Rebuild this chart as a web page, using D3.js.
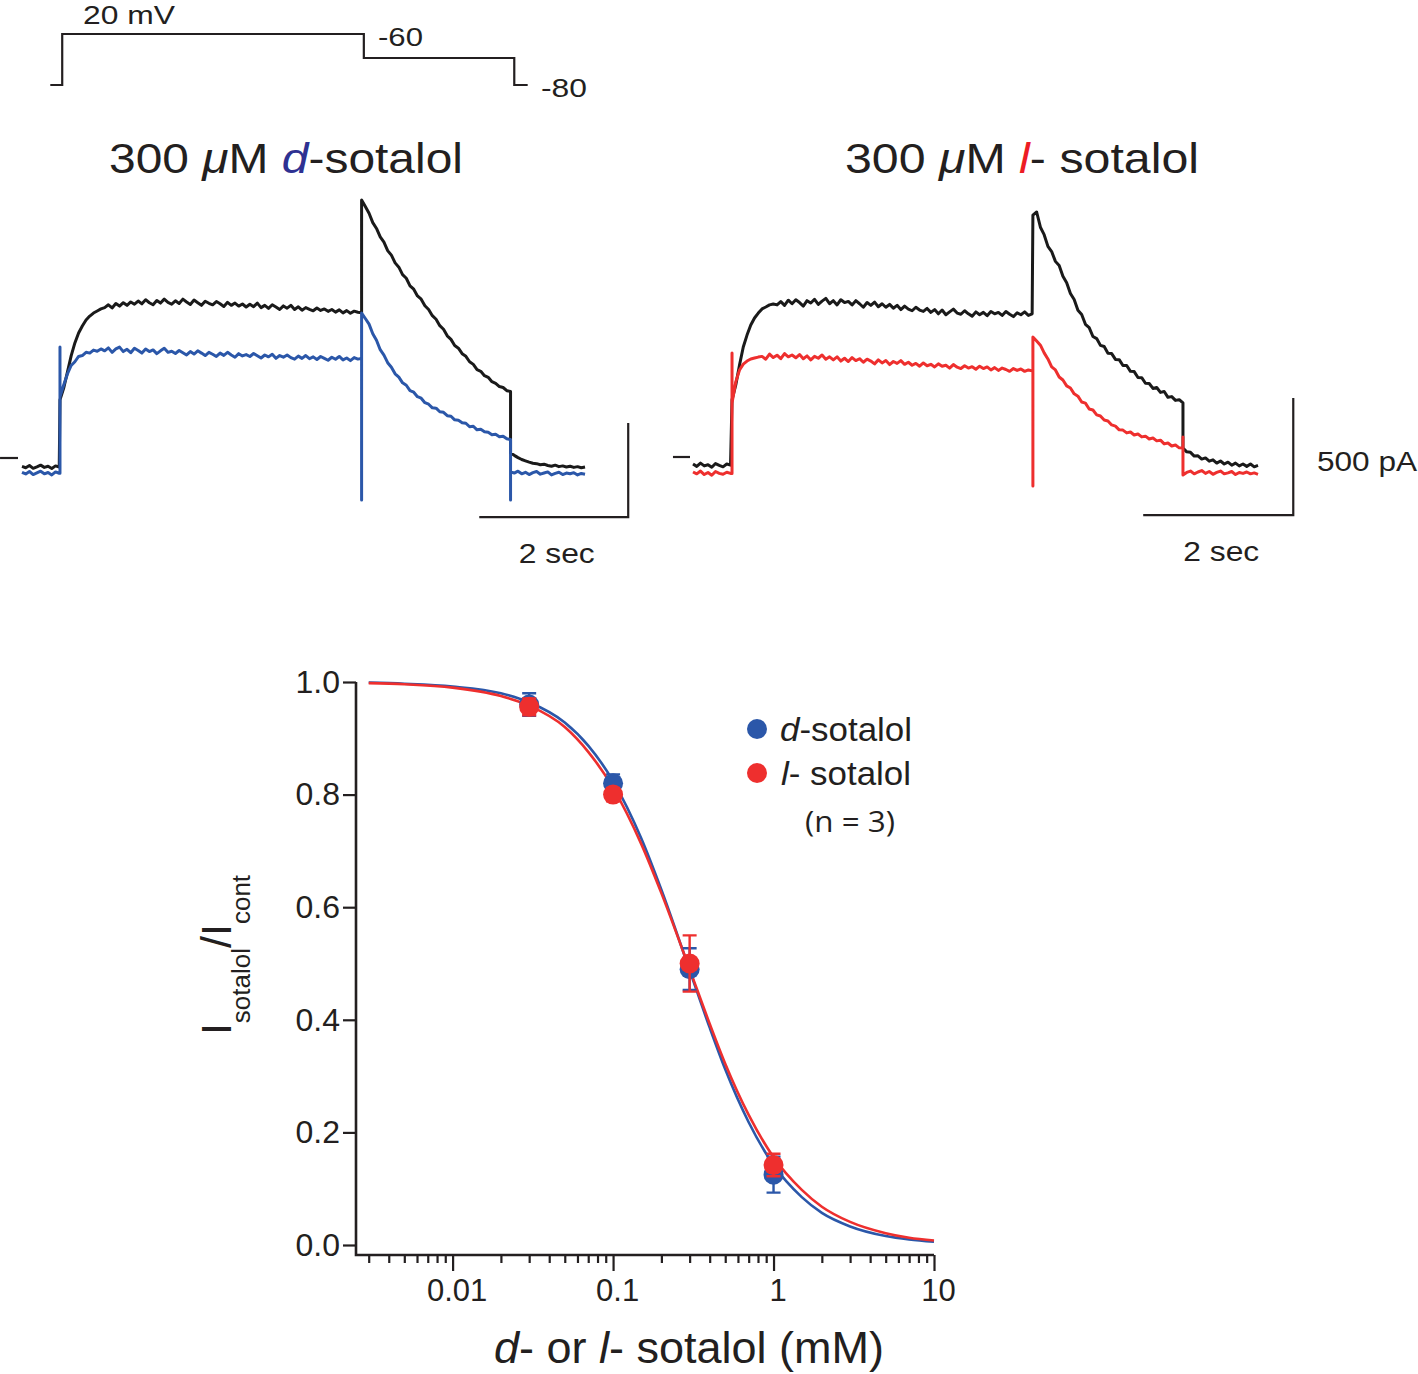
<!DOCTYPE html>
<html lang="en">
<head>
<meta charset="UTF-8">
<title>d- and l-sotalol block</title>
<script src="https://d3js.org/d3.v7.min.js"></script>
<style>
  body { margin: 0; background: #fff; }
  text { font-family: "Liberation Sans", Arial, sans-serif; fill: #231f20; }
</style>
</head>
<body>
<script>
// ---------- data ----------
const DT = 0.05; // sample spacing of the traces (s)

// voltage protocol (s, mV)
const protoT = [0.38, 0.54, 4.59, 6.61, 6.79];
const protoV = [-80, 20, -60, -80, -80];

// left panel, d-sotalol; currents in pA, segments start at dEdges (s)
const dEdges = [0, 0.51, 4.56, 6.56];
const dCtrlPre = [-45, -52, -40, -55, -47, -38, -50, -44, -56, -42, -48];
const dCtrlStep = [309, 372, 457, 543, 612, 665, 702, 734, 755, 771, 782, 793,
  800, 815, 798, 822, 808, 826, 812, 830, 818,
  835, 820, 842, 826, 815, 838, 824, 845, 828, 818,
  836, 822, 845, 830, 817, 840, 826, 812, 834, 823,
  815, 832, 820, 806, 828, 812, 824, 808, 819, 803,
  818, 805, 824, 800, 812, 796, 815, 803, 790, 809,
  797, 812, 790, 804, 786, 800, 791, 783, 798, 785,
  793, 780, 790, 776, 788, 772, 784, 770, 781, 775, 772];
const dCtrlTail = [1373, 1338, 1302, 1252, 1221, 1176, 1148, 1103, 1079, 1038, 1015, 975,
  956, 916, 898, 862, 845, 810, 790, 757, 738, 704, 685, 650, 631, 598, 584, 555,
  541, 512, 498, 470, 461, 438, 429, 406, 397, 380, 375, 358, 354];
const dCtrlEnd = [27, 14, 2, -8, -15, -22, -28, -30, -36, -33, -40, -44, -38, -46, -42, -48, -44, -50, -46, -52, -48];

const dDrugPre = [-76, -85, -72, -88, -79, -70, -84, -77, -90, -74, -81];
const dDrugStep = [325, 388, 447, 492, 512, 540, 545, 562, 558, 574, 568, 580,
  570, 586, 562, 580, 590, 566, 578, 560, 584,
  572, 558, 580, 566, 575, 555, 570, 584, 562, 568,
  556, 572, 560, 548, 566, 553, 570, 558, 545, 562,
  552, 540, 558, 546, 562, 548, 536, 555, 543, 550,
  540, 556, 544, 532, 548, 538, 552, 530, 545, 536,
  548, 534, 526, 542, 530, 545, 528, 538, 524, 540,
  530, 520, 536, 525, 540, 522, 532, 518, 534, 526, 530];
const dDrugTail = [771, 742, 712, 661, 626, 576, 547, 507, 483, 448, 430, 400, 387, 358,
  350, 326, 318, 294, 286, 267, 265, 246, 243, 225, 222, 203, 201, 188, 185, 166,
  169, 150, 153, 140, 137, 124, 126, 113, 116, 102, 98];
const dDrugEnd = [-74, -80, -70, -84, -76, -88, -78, -72, -86, -80, -74, -90, -82, -76, -88, -80, -84, -78, -90, -82, -86];
// capacitive spikes: [time, values]
const dDrugSpikes = [[0.51, [-81, 590, 325]], [4.56, [530, -223, 771]], [6.56, [98, -223, -74]]];

// right panel, l-sotalol
const lEdges = [0, 0.52, 4.53, 6.53];
const lCtrlPre = [-30, -40, -26, -38, -33, -44, -28, -36, -42, -30, -35];
const lCtrlStep = [244, 308, 393, 470, 521, 564, 594, 615, 633, 641, 650, 654,
  650, 664, 648, 670, 655, 672, 660, 645, 668,
  658, 674, 652, 666, 678, 655, 668, 650, 672, 660,
  665, 650, 668, 655, 640, 660, 648, 662, 642, 655,
  640, 652, 636, 648, 630, 645, 632, 625, 640, 628,
  622, 635, 618, 630, 612, 628, 608, 620, 632, 615,
  610, 625, 612, 602, 620, 608, 618, 604, 622, 612,
  618, 605, 622, 610, 600, 616, 608, 620, 605, 612];
const lCtrlTail = [1034, 1047, 982, 950, 900, 878, 836, 818, 772, 745, 699, 673, 627, 609,
  567, 553, 515, 506, 477, 472, 443, 442, 417, 416, 391, 391, 366, 365, 340, 339,
  315, 314, 293, 297, 276, 280, 255, 258, 242, 245, 231];
const lCtrlEnd = [38, 22, 20, 4, 5, -9, -4, -18, -12, -26, -17, -30, -22, -35, -26, -38, -30, -40, -30, -42, -36];

const lDrugPre = [-64, -72, -60, -75, -66, -78, -62, -70, -74, -65, -70];
const lDrugStep = [231, 321, 372, 397, 410, 419, 423, 427,
  430, 418, 440, 425, 435, 420, 442, 428, 436,
  424, 438, 420, 432, 415, 430, 422, 436, 418, 428,
  415, 428, 410, 422, 408, 425, 412, 420, 405, 418,
  410, 398, 415, 402, 412, 395, 408, 400, 412, 396,
  405, 392, 400, 388, 402, 390, 396, 385, 398, 388,
  392, 380, 395, 384, 378, 390, 380, 386, 375, 388,
  378, 385, 372, 382, 370, 380, 374, 366, 378, 370,
  376, 366, 372, 368];
const lDrugTail = [513, 496, 478, 445, 419, 385, 372, 342, 329, 304, 295, 270, 260, 235,
  230, 205, 201, 180, 175, 158, 154, 137, 132, 116, 115, 103, 107, 94, 98, 86,
  89, 77, 81, 69, 72, 56, 60, 47, 51, 39, 38];
const lDrugEnd = [-77, -66, -60, -72, -64, -58, -70, -62, -74, -66, -60, -72, -68, -62, -75, -66, -70, -64, -72, -68, -74];
const lDrugSpikes = [[0.52, [-70, 444, 231]], [4.53, [368, -124, 513]], [6.53, [38, 85, -77]]];

// concentration-response (mM, I/Icont)
const doses = [0.03, 0.1, 0.3, 1];
const dMean = [0.96, 0.82, 0.49, 0.125];
const dSem = [0.02, 0.016, 0.037, 0.032];
const lMean = [0.956, 0.80, 0.50, 0.142];
const lSem = [0.015, 0.012, 0.05, 0.02];

// fitted curves
const fitConc = [0.003, 0.005, 0.01, 0.02, 0.03, 0.05, 0.07, 0.1, 0.15, 0.2, 0.3, 0.4, 0.5, 0.7, 1, 1.5, 2, 3, 5, 7, 10];
const dFit = [0.999, 0.997, 0.992, 0.980, 0.964, 0.928, 0.887, 0.824, 0.722, 0.631, 0.488, 0.386, 0.312, 0.218, 0.142, 0.085, 0.057, 0.033, 0.016, 0.010, 0.006];
const lFit = [0.998, 0.996, 0.990, 0.975, 0.958, 0.920, 0.876, 0.812, 0.712, 0.625, 0.490, 0.393, 0.322, 0.231, 0.156, 0.098, 0.068, 0.041, 0.021, 0.013, 0.008];

const minorTicks = [0.003, 0.004, 0.005, 0.006, 0.007, 0.008, 0.009,
  0.02, 0.03, 0.04, 0.05, 0.06, 0.07, 0.08, 0.09,
  0.2, 0.3, 0.4, 0.5, 0.6, 0.7, 0.8, 0.9,
  2, 3, 4, 5, 6, 7, 8, 9];
const majorTicks = [0.01, 0.1, 1, 10];

// ---------- drawing ----------
const blue = "#2b57a9", red = "#ee2f2e", ink = "#231f20";

const svg = d3.select("body").append("svg")
  .attr("width", 1418).attr("height", 1374);

function sweep(edges, parts, spikes) {
  const pts = [];
  parts.forEach((vals, k) => {
    const sp = (spikes || []).find(s => s[0] === edges[k]);
    if (sp) sp[1].forEach(v => pts.push([edges[k], v]));
    vals.forEach((v, i) => pts.push([edges[k] + i * DT, v]));
  });
  return pts;
}

// plain label, stretched to the width seen in the figure
function label(xp, yp, size, len, txt, anchor) {
  return svg.append("text").attr("x", xp).attr("y", yp)
    .attr("text-anchor", anchor || "start").style("font-size", size + "px")
    .attr("textLength", len).attr("lengthAdjust", "spacingAndGlyphs").text(txt);
}

// voltage protocol
const px = d3.scaleLinear().domain([0, 7.6]).range([22, 588]);
const pv = d3.scaleLinear().domain([-80, -60, 20]).range([85, 58, 34]);
svg.append("path")
  .datum(protoT.map((t, i) => [t, protoV[i]]))
  .attr("fill", "none").attr("stroke", ink).attr("stroke-width", 2.2)
  .attr("d", d3.line().x(d => px(d[0])).y(d => pv(d[1])).curve(d3.curveStepAfter));
label(83, 24, 26, 92, "20 mV");
label(378, 46, 26, 45, "-60");
label(541, 97, 26, 46, "-80");

// titles
function title(x0, letter, rest, colour) {
  const t = svg.append("text").attr("x", x0).attr("y", 173)
    .style("font-size", "43px")
    .attr("textLength", 354).attr("lengthAdjust", "spacingAndGlyphs");
  t.append("tspan").text("300 ");
  t.append("tspan").style("font-style", "italic").text("\u03bc");
  t.append("tspan").text("M ");
  t.append("tspan").style("font-style", "italic").style("fill", colour).text(letter);
  t.append("tspan").text(rest);
}
title(109, "d", "-sotalol", "#2e3192");
title(845, "l", "- sotalol", "#ed1c24");

// current panels
function panel(xs, ys, ctrl, drug, drugColour, bar, zeroT) {
  const line = d3.line().x(d => xs(d[0])).y(d => ys(d[1]));
  svg.append("path").datum(ctrl).attr("fill", "none")
    .attr("stroke", "#1a1a1a").attr("stroke-width", 3).attr("stroke-linejoin", "round")
    .attr("d", line);
  svg.append("path").datum(drug).attr("fill", "none")
    .attr("stroke", drugColour).attr("stroke-width", 3).attr("stroke-linejoin", "round")
    .attr("d", line);
  // zero-current marker
  svg.append("line")
    .attr("x1", xs(zeroT[0])).attr("x2", xs(zeroT[1]))
    .attr("y1", ys(0)).attr("y2", ys(0))
    .attr("stroke", ink).attr("stroke-width", 2.2);
  // scale bar: 2 s, 500 pA
  svg.append("path").attr("fill", "none").attr("stroke", ink).attr("stroke-width", 2.2)
    .attr("d", `M${xs(bar[0] - 2)},${ys(bar[1])}H${xs(bar[0])}V${ys(bar[1] + 500)}`);
  label(xs(bar[0] - 1) + 3, ys(bar[1]) + 46, 28, 76, "2 sec", "middle");
}

const lx = d3.scaleLinear().domain([0, 7.6]).range([22, 588]);
const ly = d3.scaleLinear().domain([0, 500]).range([458, 364]);
panel(lx, ly,
  sweep(dEdges, [dCtrlPre, dCtrlStep, dCtrlTail, dCtrlEnd]),
  sweep(dEdges, [dDrugPre, dDrugStep, dDrugTail, dDrugEnd], dDrugSpikes),
  blue, [8.14, -314], [-0.295, -0.054]);

const rx = d3.scaleLinear().domain([0, 7.53]).range([693, 1258]);
const ry = d3.scaleLinear().domain([0, 500]).range([457, 340]);
panel(rx, ry,
  sweep(lEdges, [lCtrlPre, lCtrlStep, lCtrlTail, lCtrlEnd]),
  sweep(lEdges, [lDrugPre, lDrugStep, lDrugTail, lDrugEnd], lDrugSpikes),
  red, [8.0, -248], [-0.267, -0.04]);
label(1317, 471, 28, 100, "500 pA");

// concentration-response plot
const x = d3.scaleLog().domain([0.0025, 10]).range([356, 934]);
const y = d3.scaleLinear().domain([0, 1]).range([1245, 682]);
const axisY = 1255;

const gy = svg.append("g").attr("transform", "translate(356,0)")
  .call(d3.axisLeft(y).tickValues([0, 0.2, 0.4, 0.6, 0.8, 1])
    .tickFormat(d3.format(".1f")).tickSize(13).tickPadding(3));
gy.select(".domain").remove();
gy.selectAll(".tick text").style("font-size", "32px");

const gxMinor = svg.append("g").attr("transform", `translate(0,${axisY})`)
  .call(d3.axisBottom(x).tickValues(minorTicks).tickSize(8).tickFormat(""));
gxMinor.select(".domain").remove();
const gxMajor = svg.append("g").attr("transform", `translate(0,${axisY})`)
  .call(d3.axisBottom(x).tickValues(majorTicks).tickSize(16).tickPadding(8)
    .tickFormat(d => String(d)));
gxMajor.select(".domain").remove();
gxMajor.selectAll(".tick text").style("font-size", "31px").attr("dx", 4);

svg.selectAll(".tick line").attr("stroke", ink).attr("stroke-width", 2.2);
svg.selectAll(".tick text")
  .style("font-family", '"Liberation Sans", Arial, sans-serif').attr("fill", ink);

svg.append("path").attr("fill", "none").attr("stroke", ink).attr("stroke-width", 2.6)
  .attr("d", `M356,${y(1)}V${axisY}H${x(10)}`);

// fitted curves
const fitLine = d3.line().x(d => x(d[0])).y(d => y(d[1])).curve(d3.curveMonotoneX);
svg.append("path").datum(fitConc.map((c, i) => [c, dFit[i]]))
  .attr("fill", "none").attr("stroke", blue).attr("stroke-width", 2.6).attr("d", fitLine);
svg.append("path").datum(fitConc.map((c, i) => [c, lFit[i]]))
  .attr("fill", "none").attr("stroke", red).attr("stroke-width", 2.6).attr("d", fitLine);

// points with error bars
function points(mean, sem, colour) {
  const g = svg.append("g");
  doses.forEach((c, i) => {
    const cx = x(c), top = y(mean[i] + sem[i]), bot = y(mean[i] - sem[i]);
    g.append("path").attr("fill", "none").attr("stroke", colour).attr("stroke-width", 2.4)
      .attr("d", `M${cx - 7},${top}H${cx + 7}M${cx},${top}V${bot}M${cx - 7},${bot}H${cx + 7}`);
  });
  g.selectAll("circle").data(doses).enter().append("circle")
    .attr("cx", d => x(d)).attr("cy", (d, i) => y(mean[i])).attr("r", 10)
    .attr("fill", colour);
}
points(dMean, dSem, blue);
points(lMean, lSem, red);

// legend
svg.append("circle").attr("cx", 757).attr("cy", 729).attr("r", 10).attr("fill", blue);
svg.append("circle").attr("cx", 757).attr("cy", 773).attr("r", 10).attr("fill", red);
const lg1 = svg.append("text").attr("x", 780).attr("y", 741).style("font-size", "33px")
  .attr("textLength", 132).attr("lengthAdjust", "spacingAndGlyphs");
lg1.append("tspan").style("font-style", "italic").text("d");
lg1.append("tspan").text("-sotalol");
const lg2 = svg.append("text").attr("x", 781).attr("y", 785).style("font-size", "33px")
  .attr("textLength", 130).attr("lengthAdjust", "spacingAndGlyphs");
lg2.append("tspan").style("font-style", "italic").text("l");
lg2.append("tspan").text("- sotalol");
svg.append("text").attr("x", 805).attr("y", 832)
  .style("font-family", '"Open Sans", sans-serif').style("font-size", "29px")
  .attr("textLength", 90).attr("lengthAdjust", "spacingAndGlyphs").text("(n = 3)");

// axis titles
const xl = svg.append("text").attr("x", 494).attr("y", 1363)
  .style("font-size", "45px")
  .attr("textLength", 390).attr("lengthAdjust", "spacingAndGlyphs");
xl.append("tspan").style("font-style", "italic").text("d");
xl.append("tspan").text("- or ");
xl.append("tspan").style("font-style", "italic").text("l");
xl.append("tspan").text("- sotalol (mM)");

const yl = svg.append("text").attr("transform", "translate(231,955) rotate(-90)")
  .attr("text-anchor", "middle").style("font-size", "43px");
yl.append("tspan").text("I");
yl.append("tspan").attr("dy", 19).style("font-size", "26px").text("sotalol");
yl.append("tspan").attr("dy", -19).text("/I");
yl.append("tspan").attr("dy", 19).style("font-size", "26px").text("cont");
</script>
</body>
</html>
